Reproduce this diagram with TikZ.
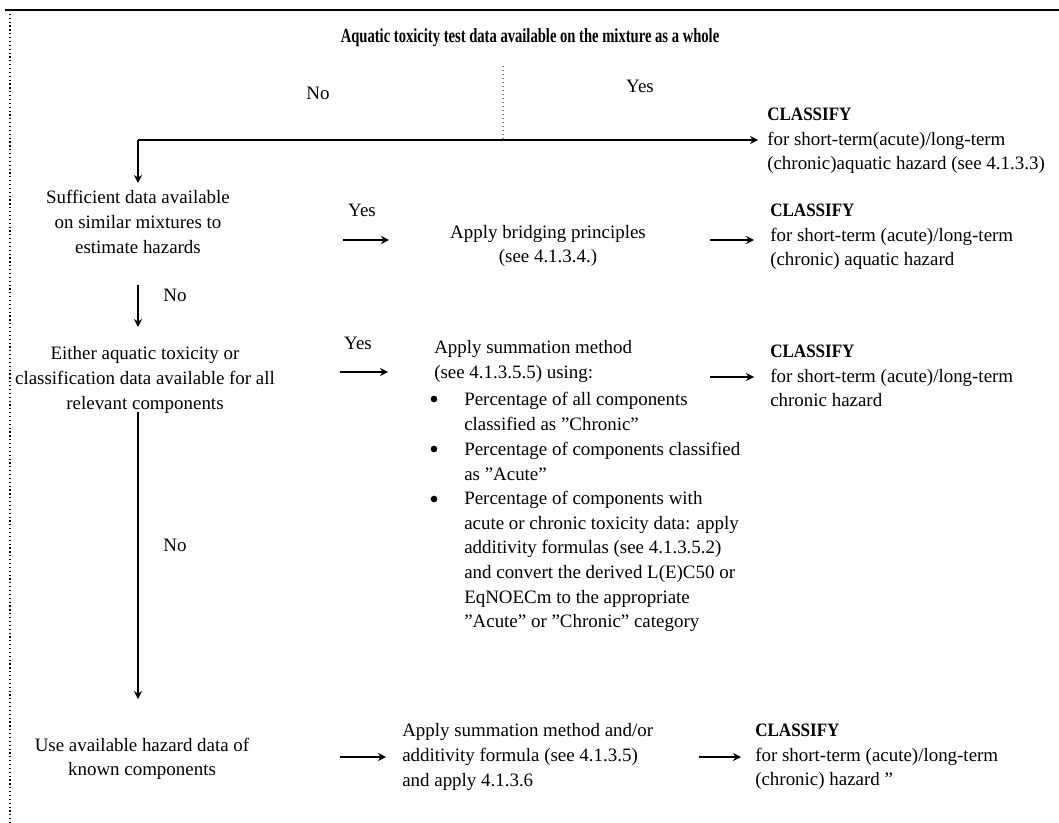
\documentclass[tikz,border=0pt]{standalone}
\usepackage{fontspec}
\usepackage{graphicx}
\setmainfont{Liberation Serif}
\usetikzlibrary{arrows.meta}
\newcommand{\clsf}{\scalebox{0.9}[1]{\bfseries CLASSIFY}}
\begin{document}
\begin{tikzpicture}[x=0.75pt,y=-0.75pt,
  txt/.style={inner sep=0pt, font=\fontsize{14.2}{18.5}\selectfont},
  ctxt/.style={txt, align=center},
  ltxt/.style={txt, align=left, anchor=west},
  bul/.style={circle, fill=black, inner sep=0pt, minimum size=5pt},
  arr/.style={line width=1.4pt, -{Stealth[length=6pt,width=6pt]}},
  frame/.style={line width=1.5pt},
  dotline/.style={line width=0.9pt, dotted},
  grayline/.style={line width=1pt, dotted, gray}
]
\useasboundingbox (0,0) rectangle (1059,823);
% frame
\draw[frame] (5,10) -- (1059,10);
\draw[dotline] (10,10) -- (10,823);

% title
\node[txt] (title) at (530,38) {\fontsize{15}{18}\selectfont\scalebox{0.73}[1]{\bfseries Aquatic toxicity test data available on the mixture as a whole}};
\coordinate (vtop) at (503,66);
\coordinate (split) at (503,140);
\coordinate (corner) at (138,140);
\coordinate (a1e) at (758,140);
\draw[grayline] (vtop) -- (split);
\node[txt] (no1) at (318,93) {No};
\node[txt] (yes1) at (640,86) {Yes};

% classify 1
\node[ltxt] (c1) at (767,141) {\clsf\\for short-term(acute)/long-term\\(chronic)aquatic hazard (see 4.1.3.3)};
\draw[line width=1.4pt] (corner) -- (split);
\draw[arr] (split) -- (a1e);

% row 2
\node[ctxt] (suff) at (138,222) {Sufficient data available\\on similar mixtures to\\estimate hazards};
\coordinate (d1e) at (138,183);
\draw[arr] (corner) -- (d1e);
\node[txt] (yes2) at (362,210) {Yes};
\node[ctxt] (bridge) at (548,246) {Apply bridging principles\\(see 4.1.3.4.)};
\coordinate (a2s) at (343,240);
\coordinate (a2e) at (389,240);
\draw[arr] (a2s) -- (a2e);
\node[ltxt] (c2) at (770,237) {\clsf\\for short-term (acute)/long-term\\(chronic) aquatic hazard};
\coordinate (b2s) at (710,240);
\coordinate (b2e) at (754,240);
\draw[arr] (b2s) -- (b2e);

% row 3
\node[txt] (no2) at (175,295) {No};
\coordinate (d2s) at (138,285);
\coordinate (d2e) at (138,327);
\draw[arr] (d2s) -- (d2e);
\node[ctxt] (either) at (145,380) {Either aquatic toxicity or\\classification data available for all\\relevant components};
\node[txt] (yes3) at (358,343) {Yes};
\coordinate (a3s) at (340,372);
\coordinate (a3e) at (388,372);
\draw[arr] (a3s) -- (a3e);
\node[txt, anchor=west, align=left] (summ) at (434,361.5) {Apply summation method\\(see 4.1.3.5.5) using:};
\node[txt, anchor=west, align=left] (i1) at (464,411.5) {Percentage of all components\\classified as ”Chronic”};
\node[txt, anchor=west, align=left] (i2) at (464,461.5) {Percentage of components classified\\as ”Acute”};
\node[txt, anchor=west, align=left] (i3) at (464,561.5) {Percentage of components with\\acute or chronic toxicity data: apply\\additivity formulas (see 4.1.3.5.2)\\and convert the derived L(E)C50 or\\EqNOECm to the appropriate\\”Acute” or ”Chronic” category};
\node[bul] (b1) at (434,399) {};
\node[bul] (b2) at (434,449) {};
\node[bul] (b3) at (434,499) {};
\node[ltxt] (c3) at (770,376) {\clsf\\for short-term (acute)/long-term\\chronic hazard};
\coordinate (b3s) at (710,377);
\coordinate (b3e) at (754,377);
\draw[arr] (b3s) -- (b3e);

% row 4
\node[txt] (no3) at (175,545) {No};
\coordinate (d3s) at (138,412);
\coordinate (d3e) at (138,699);
\draw[arr] (d3s) -- (d3e);
\node[ctxt] (use) at (142,759) {Use available hazard data of\\known components};
\node[ltxt] (summ2) at (402,757) {Apply summation method and/or\\additivity formula (see 4.1.3.5)\\and apply 4.1.3.6};
\coordinate (a4s) at (340,757);
\coordinate (a4e) at (386,757);
\draw[arr] (a4s) -- (a4e);
\node[ltxt] (c4) at (755,757) {\clsf\\for short-term (acute)/long-term\\(chronic) hazard ”};
\coordinate (b4s) at (699,757);
\coordinate (b4e) at (741,757);
\draw[arr] (b4s) -- (b4e);
\end{tikzpicture}
\end{document}
